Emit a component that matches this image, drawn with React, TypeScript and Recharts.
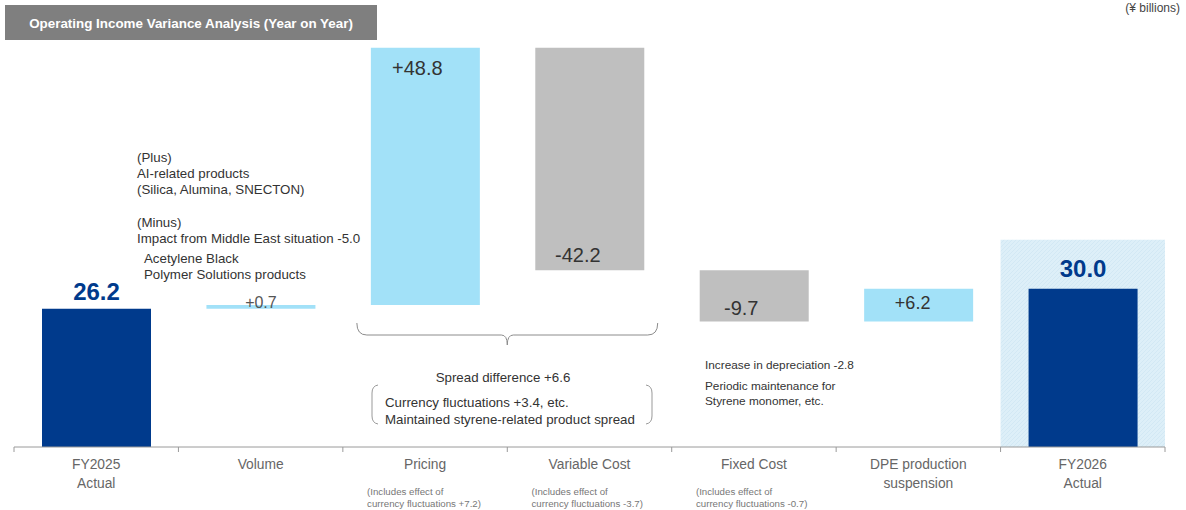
import React from 'react';
import { BarChart, Bar, XAxis, YAxis, Cell, LabelList, ReferenceArea, Customized } from 'recharts';

// ---- data ----
const categories = [
  'FY2025 Actual',
  'Volume',
  'Pricing',
  'Variable Cost',
  'Fixed Cost',
  'DPE production suspension',
  'FY2026 Actual',
];
const tickLines = [
  ['FY2025', 'Actual'],
  ['Volume'],
  ['Pricing'],
  ['Variable Cost'],
  ['Fixed Cost'],
  ['DPE production', 'suspension'],
  ['FY2026', 'Actual'],
];
const tickNotes = [
  [],
  [],
  ['(Includes effect of', 'currency fluctuations +7.2)'],
  ['(Includes effect of', 'currency fluctuations -3.7)'],
  ['(Includes effect of', 'currency fluctuations -0.7)'],
  [],
  [],
];
// ¥ billions; totals are absolute, the rest are year-on-year changes
const changes = [26.2, 0.7, 48.8, -42.2, -9.7, 6.2, 30.0];
const kinds = ['total', 'change', 'change', 'change', 'change', 'change', 'total'];
const valueLabels = ['26.2', '+0.7', '+48.8', '-42.2', '-9.7', '+6.2', '30.0'];
const highlightTop = 39.3;

// ---- styles ----
const FONT = '"Liberation Sans", Arial, Helvetica, sans-serif';
const NAVY = '#003a8c';
const UP = '#a2e1f8';
const DOWN = '#bfbfbf';
const W = 1186;
const H = 510;
const M = { top: 25, right: 21, bottom: 0, left: 14 };
const AXIS_H = 63;
const PLOT_W = W - M.left - M.right;
const BAND = PLOT_W / categories.length;
const AXIS_Y = H - AXIS_H;

// label placement: anchor edge of the bar, offsets, font
const labelStyle = [
  { edge: 'top', dx: 0, dy: -9, size: 24, bold: true, color: NAVY },
  { edge: 'top', dx: 0, dy: 3, size: 16, bold: false, color: '#555' },
  { edge: 'top', dx: -8, dy: 27, size: 20, bold: false, color: '#333' },
  { edge: 'bottom', dx: -12, dy: -8, size: 20, bold: false, color: '#333' },
  { edge: 'bottom', dx: -13, dy: -6, size: 20, bold: false, color: '#333' },
  { edge: 'top', dx: -6, dy: 20, size: 18, bold: false, color: '#333' },
  { edge: 'top', dx: 0, dy: -12, size: 24, bold: true, color: NAVY },
];

// build waterfall rows: invisible base + visible span
const rows = (() => {
  let running = 0;
  return categories.map((name, i) => {
    const v = changes[i];
    let base: number;
    let span: number;
    if (kinds[i] === 'total') {
      base = 0;
      span = v;
      running = v;
    } else {
      base = Math.min(running, running + v);
      span = Math.abs(v);
      running += v;
    }
    return { name, base, span, label: valueLabels[i] };
  });
})();

const barColor = (i: number) =>
  kinds[i] === 'total' ? NAVY : changes[i] >= 0 ? UP : DOWN;

const ValueLabel = (props: any) => {
  const { x, y, width, height, index } = props;
  const s = labelStyle[index];
  const cx = Number(x) + Number(width) / 2 + s.dx;
  const top = Math.min(Number(y), Number(y) + Number(height));
  const bottom = Math.max(Number(y), Number(y) + Number(height));
  const ty = (s.edge === 'top' ? top : bottom) + s.dy;
  return (
    <text
      x={cx}
      y={ty}
      textAnchor="middle"
      fontFamily={FONT}
      fontSize={s.size}
      fontWeight={s.bold ? 700 : 400}
      fill={s.color}
    >
      {rows[index].label}
    </text>
  );
};

const CategoryTick = (props: any) => {
  const { x, index } = props;
  const cx = Number(x);
  const left = cx - BAND / 2;
  const lines = tickLines[index] || [];
  const notes = tickNotes[index] || [];
  return (
    <g>
      <line x1={left} y1={AXIS_Y} x2={left} y2={AXIS_Y + 5} stroke="#9a9a9a" />
      {index === categories.length - 1 && (
        <line x1={left + BAND} y1={AXIS_Y} x2={left + BAND} y2={AXIS_Y + 5} stroke="#9a9a9a" />
      )}
      {lines.map((t, k) => (
        <text
          key={k}
          x={cx}
          y={AXIS_Y + 22 + k * 19}
          textAnchor="middle"
          fontFamily={FONT}
          fontSize={13.8}
          fill="#666"
        >
          {t}
        </text>
      ))}
      {notes.map((t, k) => (
        <text
          key={'n' + k}
          x={cx - 58}
          y={AXIS_Y + 48 + k * 12}
          textAnchor="start"
          fontFamily={FONT}
          fontSize={9.7}
          fill="#777"
        >
          {t}
        </text>
      ))}
    </g>
  );
};

const txt = (x: number, y: number, s: string, size = 13.3, extra: any = {}) => (
  <text x={x} y={y} fontFamily={FONT} fontSize={size} fill="#333" {...extra}>
    {s}
  </text>
);

const Annotations = () => {
  const pricingLeft = M.left + 2 * BAND;
  const varRight = M.left + 4 * BAND;
  const bx1 = pricingLeft + 14;
  const bx2 = varRight - 14;
  const mid = (bx1 + bx2) / 2;
  return (
    <g>
      <defs>
        <pattern id="hatch" width="4" height="4" patternUnits="userSpaceOnUse">
          <rect width="4" height="4" fill="#ddeff8" />
          <path d="M0 4 L4 0" stroke="#cfe6f2" strokeWidth="0.8" />
        </pattern>
      </defs>
      {/* title */}
      <rect x={5} y={5} width={372} height={35} fill="#7f7f7f" />
      <text
        x={191}
        y={27.5}
        textAnchor="middle"
        fontFamily={FONT}
        fontSize={13.4}
        fontWeight={700}
        fill="#fff"
      >
        Operating Income Variance Analysis (Year on Year)
      </text>
      <text x={1180} y={12} textAnchor="end" fontFamily={FONT} fontSize={12} fill="#444">
        (¥ billions)
      </text>

      {/* volume notes */}
      {txt(137, 161.5, '(Plus)')}
      {txt(137, 177.5, 'AI-related products')}
      {txt(137, 193.5, '(Silica, Alumina, SNECTON)')}
      {txt(137, 226.5, '(Minus)')}
      {txt(137, 242.5, 'Impact from Middle East situation -5.0')}
      {txt(144, 262.5, 'Acetylene Black')}
      {txt(144, 278.5, 'Polymer Solutions products')}

      {/* brace under pricing and variable cost */}
      <path
        d={`M${bx1} 323 Q${bx1} 335 ${bx1 + 10} 335 L${mid - 6} 335 Q${mid} 335 ${mid} 345 Q${mid} 335 ${mid + 6} 335 L${bx2 - 10} 335 Q${bx2} 335 ${bx2} 323`}
        fill="none"
        stroke="#8c8c8c"
        strokeWidth={1}
      />
      {txt(503, 381.5, 'Spread difference +6.6', 13.3, { textAnchor: 'middle' })}
      <path d="M378 385 Q372 386 372 393 L372 416 Q372 423 378 424" fill="none" stroke="#999" />
      <path d="M646 385 Q652 386 652 393 L652 416 Q652 423 646 424" fill="none" stroke="#999" />
      {txt(385, 406.5, 'Currency fluctuations +3.4, etc.')}
      {txt(385, 423.5, 'Maintained styrene-related product spread')}

      {/* fixed cost notes */}
      {txt(705, 369, 'Increase in depreciation -2.8', 11.8)}
      {txt(705, 390, 'Periodic maintenance for', 11.8)}
      {txt(705, 405, 'Styrene monomer, etc.', 11.8)}
    </g>
  );
};

export default function App() {
  return (
    <div style={{ position: 'absolute', left: 0, top: 0, width: W, height: H, background: '#fff' }}>
      <BarChart width={W} height={H} data={rows} margin={M} barSize={109}>
        <Customized component={Annotations} />
        <XAxis
          dataKey="name"
          height={AXIS_H}
          interval={0}
          tickLine={false}
          axisLine={{ stroke: '#9a9a9a' }}
          tick={<CategoryTick />}
        />
        <YAxis type="number" domain={[0, 80]} hide width={0} allowDataOverflow />
        <ReferenceArea
          x1={categories[6]}
          x2={categories[6]}
          y1={0}
          y2={highlightTop}
          fill="url(#hatch)"
          fillOpacity={1}
          stroke="none"
        />
        <Bar dataKey="base" stackId="w" fill="transparent" isAnimationActive={false} />
        <Bar dataKey="span" stackId="w" isAnimationActive={false}>
          {rows.map((r, i) => (
            <Cell key={r.name} fill={barColor(i)} />
          ))}
          <LabelList dataKey="label" content={<ValueLabel />} />
        </Bar>
      </BarChart>
    </div>
  );
}
